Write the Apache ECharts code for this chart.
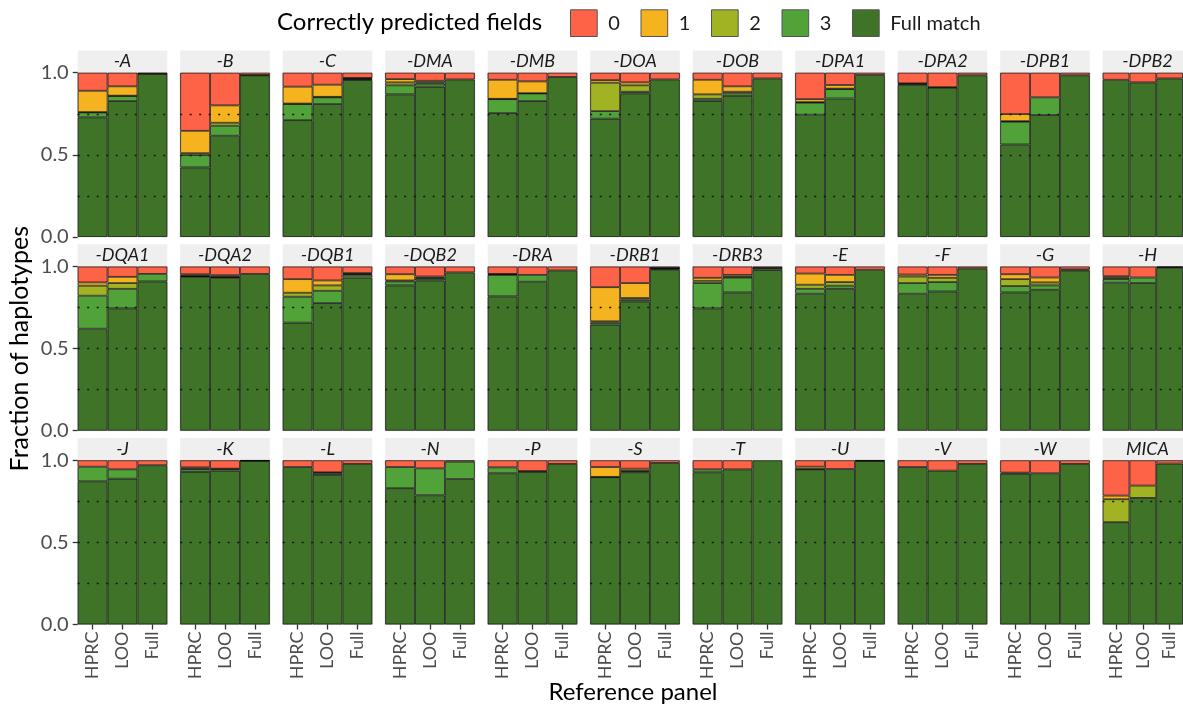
<!DOCTYPE html>
<html>
<head>
<meta charset="utf-8">
<script src="https://cdn.jsdelivr.net/npm/echarts@6/dist/echarts.min.js"></script>
<style>html,body{margin:0;padding:0;background:#fff;}#chart{width:1183px;height:704px;}</style>
</head>
<body>
<div id="chart"></div>
<script>
const genes = ['-A','-B','-C','-DMA','-DMB','-DOA','-DOB','-DPA1','-DPA2','-DPB1','-DPB2',
  '-DQA1','-DQA2','-DQB1','-DQB2','-DRA','-DRB1','-DRB3','-E','-F','-G','-H',
  '-J','-K','-L','-N','-P','-S','-T','-U','-V','-W','MICA'];
const panels = ['HPRC','LOO','Full'];
const yTicks = [0, 0.5, 1];
const gridLevels = [0.25, 0.5, 0.75];

// fraction of haplotypes per gene: [HPRC, LOO, Full]
const fullMatch = [[.728,.827,.993],[.423,.616,.984],[.711,.809,.955],[.868,.915,.959],[.754,.827,.974],[.720,.874,.959],[.827,.858,.965],[.744,.843,.986],[.925,.909,.984],[.563,.742,.984],[.957,.941,.965],
  [.621,.745,.909],[.937,.931,.955],[.658,.777,.933],[.885,.915,.964],[.818,.907,.976],[.646,.787,.980],[.745,.842,.978],[.834,.864,.980],[.834,.848,.988],[.842,.858,.976],[.901,.899,.992],
  [.872,.888,.970],[.929,.937,.996],[.959,.911,.978],[.830,.787,.886],[.921,.929,.978],[.897,.927,.984],[.927,.945,1.0],[.945,.947,.995],[.959,.937,.978],[.919,.921,.978],[.623,.771,.980]];
const three = [[.030,.031,0],[.075,.061,.002],[.098,.041,.006],[.055,.018,0],[.085,.047,0],[.046,.010,0],[.014,.016,0],[.073,.057,0],[.007,.003,0],[.138,.108,0],[0,0,0],
  [.201,.119,.046],[.004,.004,0],[.158,.075,.016],[.024,.012,0],[.131,.042,0],[.012,.011,.006],[.154,.091,.012],[.030,.019,0],[.065,.057,0],[.039,.027,.006],[.022,.034,.004],
  [.089,.057,0],[.016,.010,0],[0,.012,0],[.129,.164,.106],[.036,.006,0],[.002,.006,0],[.018,0,0],[.002,0,0],[0,0,0],[.006,0,0],[0,0,0]];
const two = [[.002,.002,0],[.012,.018,0],[.003,.003,.004],[.018,.008,0],[.002,.001,0],[.173,.039,0],[.027,.010,0],[.004,.003,0],[0,0,0],[.004,0,0],[0,0,0],
  [.061,.035,0],[.002,.002,0],[.024,.033,.005],[.006,.004,0],[.003,0,0],[.008,.010,.003],[.014,.004,0],[.025,.022,0],[.040,.026,0],[.042,.018,0],[.008,0,0],
  [0,0,0],[.004,.002,0],[0,.004,0],[0,0,0],[0,0,0],[0,.004,0],[0,0,0],[0,0,0],[0,0,0],[0,0,0],[.140,.075,0]];
const one = [[.130,.057,.001],[.136,.106,0],[.103,.074,.003],[.020,.010,0],[.116,.072,0],[.016,.018,0],[.089,.033,0],[.018,.022,0],[.003,0,0],[.043,0,0],[0,0,0],
  [.020,.038,0],[.010,.010,0],[.083,.030,.006],[.038,.008,0],[.003,0,0],[.208,.091,.002],[.018,.012,.002],[.068,.044,0],[.012,.018,0],[.030,.030,0],[.010,0,0],
  [0,0,0],[.008,0,.002],[0,0,0],[0,0,0],[0,0,0],[.060,.012,0],[0,0,0],[.014,0,.003],[0,0,0],[0,0,0],[.022,0,0]];
const zero = [[.110,.083,.006],[.354,.199,.014],[.085,.073,.032],[.039,.049,.041],[.043,.053,.026],[.045,.059,.041],[.043,.083,.035],[.161,.075,.014],[.065,.088,.016],[.252,.150,.016],[.043,.059,.035],
  [.097,.063,.045],[.047,.053,.045],[.077,.085,.040],[.047,.061,.036],[.045,.051,.024],[.126,.101,.009],[.069,.051,.008],[.043,.051,.020],[.049,.051,.012],[.047,.067,.018],[.059,.067,.004],
  [.039,.055,.030],[.043,.051,.002],[.041,.073,.022],[.041,.049,.008],[.043,.065,.022],[.041,.051,.016],[.055,.055,0],[.039,.053,.002],[.041,.063,.022],[.075,.079,.022],[.215,.154,.020]];

const layers = [
  {name:'Full match', vals: fullMatch, color:'#3F7428'},
  {name:'3', vals: three, color:'#52A23A'},
  {name:'2', vals: two, color:'#A1B322'},
  {name:'1', vals: one, color:'#F5B41F'},
  {name:'0', vals: zero, color:'#FF6347'}
];

const FONT = 'Lato';
const COLS = 11;
const left0 = 77.7, colStep = 102.5, panelW = 89.6, panelH = 164.2;
const rowTops = [72.7, 266.5, 460.3];
const stripH = 22.3;

const grid = [], xAxis = [], yAxis = [], series = [], graphics = [];
genes.forEach((g, i) => {
  const r = Math.floor(i / COLS), c = i % COLS;
  const L = left0 + c * colStep, T = rowTops[r];
  grid.push({left: L, top: T, width: panelW, height: panelH, show: true,
    borderColor: '#d6d6d6', borderWidth: 1, backgroundColor: '#ffffff'});
  xAxis.push({type:'category', gridIndex:i, data: panels,
    axisLine:{show:false},
    axisTick:{show: r === 2, alignWithLabel:true, length:5, lineStyle:{color:'#333', width:1.3}},
    axisLabel:{show: r === 2, rotate:90, fontSize:18, color:'#4d4d4d', fontFamily:FONT, margin:7}});
  yAxis.push({type:'value', gridIndex:i, min:0, max:1, interval:0.5,
    splitLine:{show:false}, axisLine:{show:false},
    axisTick:{show: c === 0, length:5, lineStyle:{color:'#333', width:1.3}},
    axisLabel:{show: c === 0, fontSize:20, color:'#4d4d4d', fontFamily:FONT, margin:9,
      formatter: v => yTicks.indexOf(v) >= 0 ? v.toFixed(1) : ''}});
  layers.forEach((ly, k) => {
    const s = {type:'bar', name: ly.name, stack:'p' + i, xAxisIndex:i, yAxisIndex:i,
      barWidth:'100%', barCategoryGap:'0%',
      data: ly.vals[i].map(v => v === 0 ? '-' : v),
      itemStyle:{color: ly.color, borderColor:'rgba(10,10,10,0.9)', borderWidth:0.8},
      emphasis:{disabled:true}, silent:true};
    if (k === layers.length - 1) {
      s.markLine = {silent:true, symbol:'none', label:{show:false},
        lineStyle:{type:[2,7.5], color:'#151515', width:1.3},
        data: gridLevels.map(v => ({yAxis: v}))};
    }
    series.push(s);
  });
  graphics.push({type:'rect', shape:{x:L, y:T - stripH, width:panelW, height:stripH},
    style:{fill:'#EFEFEF'}, silent:true});
  graphics.push({type:'text', x: L + panelW / 2, y: T - stripH / 2,
    style:{text:g, font:'italic 18px ' + FONT, fill:'#1a1a1a', textAlign:'center', textVerticalAlign:'middle'}, silent:true});
});

graphics.push({type:'text', x:20, y:348.7, rotation:Math.PI/2,
  style:{text:'Fraction of haplotypes', font:'25px ' + FONT, fill:'#000', textAlign:'center', textVerticalAlign:'middle'}});
graphics.push({type:'text', x:633, y:692,
  style:{text:'Reference panel', font:'24px ' + FONT, fill:'#000', textAlign:'center', textVerticalAlign:'middle'}});
graphics.push({type:'text', x:277, y:22.7,
  style:{text:'Correctly predicted fields', font:'24px ' + FONT, fill:'#000', textAlign:'left', textVerticalAlign:'middle'}});

const option = {
  animation:false,
  backgroundColor:'#ffffff',
  legend:{data:['0','1','2','3','Full match'], left:570, top:9.3, padding:0, orient:'horizontal',
    itemWidth:26.7, itemHeight:26.7, itemGap:20.7, selectedMode:false, icon:'rect',
    itemStyle:{borderColor:'#555', borderWidth:1},
    textStyle:{fontSize:20, color:'#1a1a1a', fontFamily:FONT, padding:[0,0,0,6]}},
  grid, xAxis, yAxis, series,
  graphic: graphics
};
const chart = echarts.init(document.getElementById('chart'), null, {renderer:'canvas'});
chart.setOption(option);
</script>
</body>
</html>
